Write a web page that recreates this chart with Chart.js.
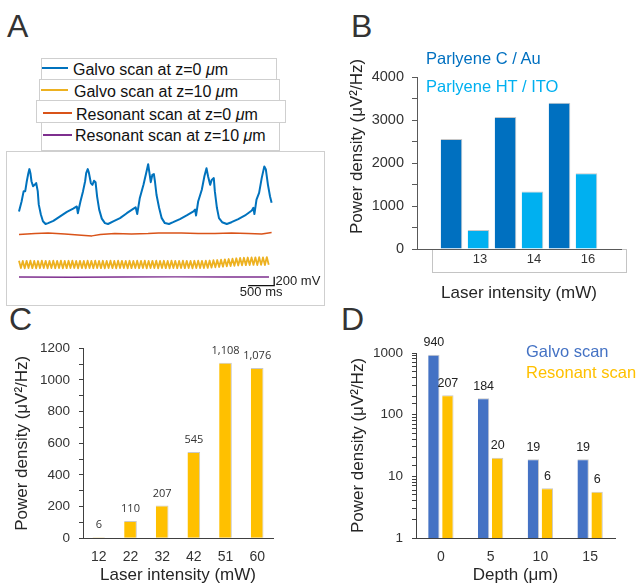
<!DOCTYPE html>
<html>
<head>
<meta charset="utf-8">
<script src="https://cdn.jsdelivr.net/npm/chart.js@4.4.0/dist/chart.umd.min.js"></script>
<style>
  html, body { margin: 0; padding: 0; background: #fff; }
  body { width: 640px; height: 587px; position: relative; overflow: hidden;
         font-family: "Liberation Sans", Arial, Helvetica, sans-serif; }
  canvas, .abs { position: absolute; }
  .letter { position: absolute; font-size: 32px; line-height: 32px; color: #333; }
  .legend-box { position: absolute; border: 1px solid #cfcfcf; box-sizing: border-box; }
  .legend-line { position: absolute; height: 2px; }
  .legend-text { position: absolute; font-size: 16px; line-height: 20px; color: #111; white-space: nowrap; }
  .key { position: absolute; font-size: 16.5px; line-height: 20px; white-space: nowrap; }
</style>
</head>
<body>

<div class="letter" style="left:7px;top:10px">A</div>
<div class="letter" style="left:351px;top:10px">B</div>
<div class="letter" style="left:9px;top:303px">C</div>
<div class="letter" style="left:341px;top:303px">D</div>

<div id="legendA"></div>
<div class="abs" style="left:6px;top:151px;width:317px;height:153px;border:1px solid #cfcfcf"></div>
<canvas id="chartA" width="317" height="153" style="left:7px;top:152px"></canvas>

<div class="abs" style="left:432px;top:249px;width:193px;height:22px;border:1px solid #c4c4c4"></div>
<canvas id="chartB" width="310" height="310" style="left:330px;top:0px"></canvas>
<div id="legendB"></div>

<canvas id="chartC" width="320" height="287" style="left:0px;top:300px"></canvas>
<canvas id="chartD" width="320" height="287" style="left:320px;top:300px"></canvas>
<div id="legendD"></div>

<script>
// ---- panel A: recorded traces (time in ms, voltage in mV) ----
var galvo0T = [0,50,90,120,150,180,200,220,240,270,300,330,360,380,420,460,510,560,660,790,920,1040,1110,1130,
  1180,1230,1270,1290,1320,1340,1380,1410,1440,1470,1500,1540,1590,1650,1710,1810,1940,2070,2200,2240,2270,
  2320,2390,2450,2480,2510,2530,2560,2590,2610,2640,2690,2740,2800,2880,2960,3090,3220,3350,3380,3400,
  3440,3510,3560,3600,3630,3670,3700,3740,3760,3800,3840,3900,3990,4080,4210,4340,4470,4500,4520,
  4560,4610,4660,4710,4740,4780,4820,4850];
var galvo0V = [280,500,730,730,950,1130,1220,1130,950,840,870,910,730,430,210,60,0,20,70,170,270,340,390,240,
  500,730,950,1130,1220,1150,910,870,960,930,610,320,120,20,0,60,130,240,340,370,220,
  580,870,1170,1330,1090,930,1090,1110,950,650,360,130,20,0,40,110,190,280,320,190,
  500,760,1060,1240,1060,870,980,1020,730,360,130,40,0,40,110,190,300,360,220,
  540,690,1020,1280,1210,870,610,470];

var galvo10Dt = 36.6;
var galvo10V = [84,-80,78,-86,82,-79,86,-82,80,-85,77,-81,85,-78,82,-84,79,-80,86,-83,
  81,-79,84,-86,78,-82,83,-80,85,-77,80,-84,82,-81,79,-85,84,-78,81,-83,
  86,-80,79,-82,83,-86,80,-79,84,-81,78,-84,85,-80,82,-78,80,-85,83,-82,
  79,-80,85,-83,81,-79,84,-86,80,-81,82,-78,86,-84,79,-80,83,-82,80,-85,
  84,-79,81,-83,78,-80,85,-82,82,-78,80,-84,83,-81,86,-79,81,-80,84,-76,
  88,-70,95,-62,100,-55,108,-48,115,-40,122,-34,130,-28,138,-22,145,-18,150,-15,
  155,-12,158,-10,160,-14,162,-8,158,-12,165,-6];

var reso0T = [0,310,560,880,1200,1400,1560,1840,2160,2480,2680,3120,3440,3760,4080,4400,4660,4790,4850];
var reso0V = [-15,7,22,0,-30,-44,-15,7,0,7,22,22,7,7,22,7,0,22,30];

var reso10T = [0,1000,2000,3000,4000,4800];
var reso10V = [0,-5,0,5,0,0];

var traceLabels = ['Galvo scan at z=0 μm', 'Galvo scan at z=10 μm', 'Resonant scan at z=0 μm', 'Resonant scan at z=10 μm'];

// ---- panel B ----
var laserB = ['13', '14', '16'];
var parylCAu = [2560, 3070, 3400];
var parylHTITO = [440, 1340, 1760];

// ---- panel C ----
var laserC = ['12', '22', '32', '42', '51', '60'];
var powerC = [6, 110, 207, 545, 1108, 1076];

// ---- panel D ----
var depthD = ['0', '5', '10', '15'];
var galvoD = [940, 184, 19, 19];
var resonantD = [207, 20, 6.4, 5.6];

// trace layout (vertical offsets for stacking, scale bar anchor)
var traceOffsets = [1800, 900, 1580, 620];
var traceColors = ['#0072BD', '#EDB120', '#D95319', '#7E2F8E'];
var traceWidths = [2, 1.8, 1.5, 1.5];
var scaleBarMs = 500, scaleBarMv = 200, scaleBarEnd = 4900, scaleBarBase = 430;

Chart.defaults.font.family = '"Liberation Sans", Arial, Helvetica, sans-serif';
Chart.defaults.color = '#333';
Chart.defaults.animation = false;
Chart.defaults.responsive = false;
Chart.defaults.plugins.legend.display = false;
Chart.defaults.plugins.tooltip.enabled = false;

function toPoints(ts, vs, offset) {
  return vs.map(function (v, i) { return {x: ts[i], y: v + offset}; });
}

var galvo10T = galvo10V.map(function (_, i) { return i * galvo10Dt; });
var traceT = [galvo0T, galvo10T, reso0T, reso10T];
var traceV = [galvo0V, galvo10V, reso0V, reso10V];

var traceSets = traceLabels.map(function (lab, k) {
  return {
    label: lab,
    data: toPoints(traceT[k], traceV[k], traceOffsets[k]),
    borderColor: traceColors[k],
    borderWidth: traceWidths[k],
    pointRadius: 0,
    tension: 0,
    borderJoinStyle: 'round'
  };
});
traceSets.push({
  label: '',
  data: [{x: scaleBarEnd - scaleBarMs, y: scaleBarBase}, {x: scaleBarEnd, y: scaleBarBase}, {x: scaleBarEnd, y: scaleBarBase + scaleBarMv}],
  borderColor: '#111', borderWidth: 1.3, pointRadius: 0, tension: 0
});

var scaleBarText = {
  id: 'scaleBarText',
  afterDatasetsDraw: function (chart) {
    var ctx = chart.ctx, x = chart.scales.x, y = chart.scales.y;
    ctx.save();
    ctx.font = '13px "Liberation Sans", Arial, sans-serif';
    ctx.fillStyle = '#222';
    ctx.textBaseline = 'middle';
    ctx.textAlign = 'left';
    ctx.fillText(scaleBarMv + ' mV', x.getPixelForValue(scaleBarEnd + 25), y.getPixelForValue(scaleBarBase + scaleBarMv / 2));
    ctx.textAlign = 'center';
    ctx.fillText(scaleBarMs + ' ms', x.getPixelForValue(scaleBarEnd - scaleBarMs / 2), y.getPixelForValue(scaleBarBase - 140));
    ctx.restore();
  }
};

var chartA = new Chart(document.getElementById('chartA'), {
  type: 'line',
  data: {datasets: traceSets},
  options: {
    layout: {padding: 0},
    scales: {
      x: {type: 'linear', display: false, min: -230, max: 5856},
      y: {display: false, min: 0, max: 3400}
    }
  },
  plugins: [scaleBarText]
});

// legend for A built from the chart datasets
var legendBoxA = [
  {left: 41, top: 58, width: 236, height: 22, lineLeft: 42, lineW: 26, lineY: 68, textLeft: 73, textTop: 59.5},
  {left: 39, top: 79, width: 241, height: 22, lineLeft: 41, lineW: 27, lineY: 90, textLeft: 74, textTop: 81.8},
  {left: 36, top: 100, width: 250, height: 23, lineLeft: 43, lineW: 29, lineY: 113, textLeft: 76, textTop: 104.5},
  {left: 41, top: 122, width: 239, height: 29, lineLeft: 43, lineW: 29, lineY: 135, textLeft: 75, textTop: 126.2}
];
var legA = document.getElementById('legendA');
chartA.data.datasets.filter(function (d) { return d.label; }).forEach(function (ds, i) {
  var b = legendBoxA[i];
  var box = document.createElement('div');
  box.className = 'legend-box';
  box.style.cssText = 'left:' + b.left + 'px;top:' + b.top + 'px;width:' + b.width + 'px;height:' + b.height + 'px';
  legA.appendChild(box);
  var line = document.createElement('div');
  line.className = 'legend-line';
  line.style.cssText = 'left:' + b.lineLeft + 'px;top:' + (b.lineY - 1) + 'px;width:' + b.lineW + 'px;background:' + ds.borderColor;
  legA.appendChild(line);
  var txt = document.createElement('div');
  txt.className = 'legend-text';
  txt.style.cssText = 'left:' + b.textLeft + 'px;top:' + b.textTop + 'px';
  var parts = ds.label.split('μ');
  txt.appendChild(document.createTextNode(parts[0]));
  var it = document.createElement('i');
  it.textContent = 'μ';
  txt.appendChild(it);
  txt.appendChild(document.createTextNode(parts[1]));
  legA.appendChild(txt);
});

function valueLabels(format, font, color, gap) {
  return {
    id: 'valueLabels',
    afterDatasetsDraw: function (chart) {
      var ctx = chart.ctx;
      ctx.save();
      ctx.font = font;
      ctx.fillStyle = color;
      ctx.textAlign = 'center';
      ctx.textBaseline = 'middle';
      chart.data.datasets.forEach(function (ds, i) {
        chart.getDatasetMeta(i).data.forEach(function (bar, j) {
          ctx.fillText(format(ds.data[j]), bar.x, bar.y - gap);
        });
      });
      ctx.restore();
    }
  };
}

function buildKey(id, chart, lefts, tops) {
  var el = document.getElementById(id);
  chart.data.datasets.forEach(function (ds, i) {
    var d = document.createElement('div');
    d.className = 'key';
    d.style.cssText = 'left:' + lefts[i] + 'px;top:' + tops[i] + 'px;color:' + ds.backgroundColor;
    d.textContent = ds.label;
    el.appendChild(d);
  });
}

// ---- chart B ----
var chartB = new Chart(document.getElementById('chartB'), {
  type: 'bar',
  data: {
    datasets: [
      {label: 'Parlyene C / Au', data: parylCAu.map(function (y, i) { return {x: i, y: y}; }),
       backgroundColor: '#0070C0', borderColor: '#c8c8c8', borderWidth: {top: 1, right: 1, left: 0, bottom: 0},
       barPercentage: 0.8, categoryPercentage: 1.0},
      {label: 'Parlyene HT / ITO', data: parylHTITO.map(function (y, i) { return {x: i, y: y}; }),
       backgroundColor: '#00B0F0', borderColor: '#c8c8c8', borderWidth: {top: 1, right: 1, left: 0, bottom: 0},
       barPercentage: 0.8, categoryPercentage: 1.0}
    ]
  },
  options: {
    layout: {padding: {top: 77, right: 19, left: 0, bottom: 0}},
    scales: {
      x: {
        type: 'linear', min: -0.889, max: 2.889, offset: false,
        afterBuildTicks: function (s) { s.ticks = laserB.map(function (_, i) { return {value: i}; }); },
        grid: {display: false, drawTicks: false},
        border: {color: '#595959'},
        ticks: {font: {size: 13}, color: '#333', padding: 3, labelOffset: 15,
                callback: function (v) { return laserB[v]; }},
        title: {display: true, text: 'Laser intensity (mW)', font: {size: 17}, color: '#262626', padding: {top: 0, bottom: 6}},
        afterFit: function (s) { s.height = 61; }
      },
      y: {
        min: 0, max: 4000,
        ticks: {stepSize: 500, autoSkip: false, font: {size: 14.5}, color: '#333', padding: 8,
                callback: function (v) { return v % 1000 === 0 ? v : ''; }},
        grid: {drawOnChartArea: false, tickLength: 5, color: '#595959'},
        border: {color: '#595959'},
        title: {display: true, text: '       Power density (μV²/Hz)', font: {size: 17}, color: '#262626', padding: {top: 17, bottom: 0}},
        afterFit: function (s) { s.width = 87; }
      }
    }
  }
});
buildKey('legendB', chartB, [426, 426], [48.3, 76]);

// ---- chart C ----
new Chart(document.getElementById('chartC'), {
  type: 'bar',
  data: {
    labels: laserC,
    datasets: [{label: 'Power density', data: powerC, backgroundColor: '#FFC000',
                borderColor: '#c9c9c9', borderWidth: {top: 1, right: 1, left: 0, bottom: 0},
                barPercentage: 0.8, categoryPercentage: 0.5}]
  },
  options: {
    layout: {padding: {top: 48.3, right: 47, left: 0, bottom: 0}},
    scales: {
      x: {
        grid: {display: false, drawTicks: false},
        border: {color: '#404040'},
        ticks: {font: {size: 14}, color: '#333', padding: 10.6},
        title: {display: true, text: 'Laser intensity (mW)', font: {size: 17}, color: '#262626', padding: {top: 0, bottom: 1}},
        afterFit: function (s) { s.height = 48.7; }
      },
      y: {
        min: 0, max: 1200,
        ticks: {stepSize: 100, autoSkip: false, font: {size: 13.5}, color: '#333', padding: 9,
                callback: function (v) { return v % 200 === 0 ? v : ''; }},
        grid: {drawOnChartArea: false, tickLength: 4, color: '#404040'},
        border: {color: '#404040'},
        title: {display: true, text: 'Power density (μV²/Hz)', font: {size: 17}, color: '#262626', padding: {top: 12, bottom: 0}},
        afterFit: function (s) { s.width = 83; }
      }
    }
  },
  plugins: [valueLabels(function (v) { return v.toLocaleString('en-US'); }, '11px "Open Sans", sans-serif', '#333', 12)]
});

// ---- chart D ----
var chartD = new Chart(document.getElementById('chartD'), {
  type: 'bar',
  data: {
    labels: depthD,
    datasets: [
      {label: 'Galvo scan', data: galvoD, backgroundColor: '#4472C4',
       borderColor: '#c9c9c9', borderWidth: {top: 1, right: 1, left: 0, bottom: 0},
       barPercentage: 0.81, categoryPercentage: 0.563},
      {label: 'Resonant scan', data: resonantD, backgroundColor: '#FFC000',
       borderColor: '#c9c9c9', borderWidth: {top: 1, right: 1, left: 0, bottom: 0},
       barPercentage: 0.81, categoryPercentage: 0.563}
    ]
  },
  options: {
    layout: {padding: {top: 53, right: 25, left: 0, bottom: 0}},
    scales: {
      x: {
        grid: {display: false, drawTicks: false},
        border: {color: '#404040'},
        ticks: {font: {size: 14}, color: '#333', padding: 10.7},
        title: {display: true, text: 'Depth (μm)', font: {size: 17}, color: '#262626', padding: {top: 0, bottom: 1}},
        afterFit: function (s) { s.height = 49; }
      },
      y: {
        type: 'logarithmic', min: 1, max: 1000,
        ticks: {autoSkip: false, font: {size: 13.5}, color: '#333', padding: 9,
                callback: function (v) { return Math.abs(Math.log10(v) % 1) < 1e-9 ? v : ''; }},
        grid: {drawOnChartArea: false, tickLength: 4, color: '#404040'},
        border: {color: '#404040'},
        title: {display: true, text: 'Power density (μV²/Hz)', font: {size: 17}, color: '#262626', padding: {top: 27.8, bottom: 0}},
        afterFit: function (s) { s.width = 96; }
      }
    }
  },
  plugins: [valueLabels(function (v) { return String(Math.round(v)); }, '12.5px "Liberation Sans", Arial, sans-serif', '#222', 12)]
});
buildKey('legendD', chartD, [526, 526], [341, 361.6]);
</script>
</body>
</html>
